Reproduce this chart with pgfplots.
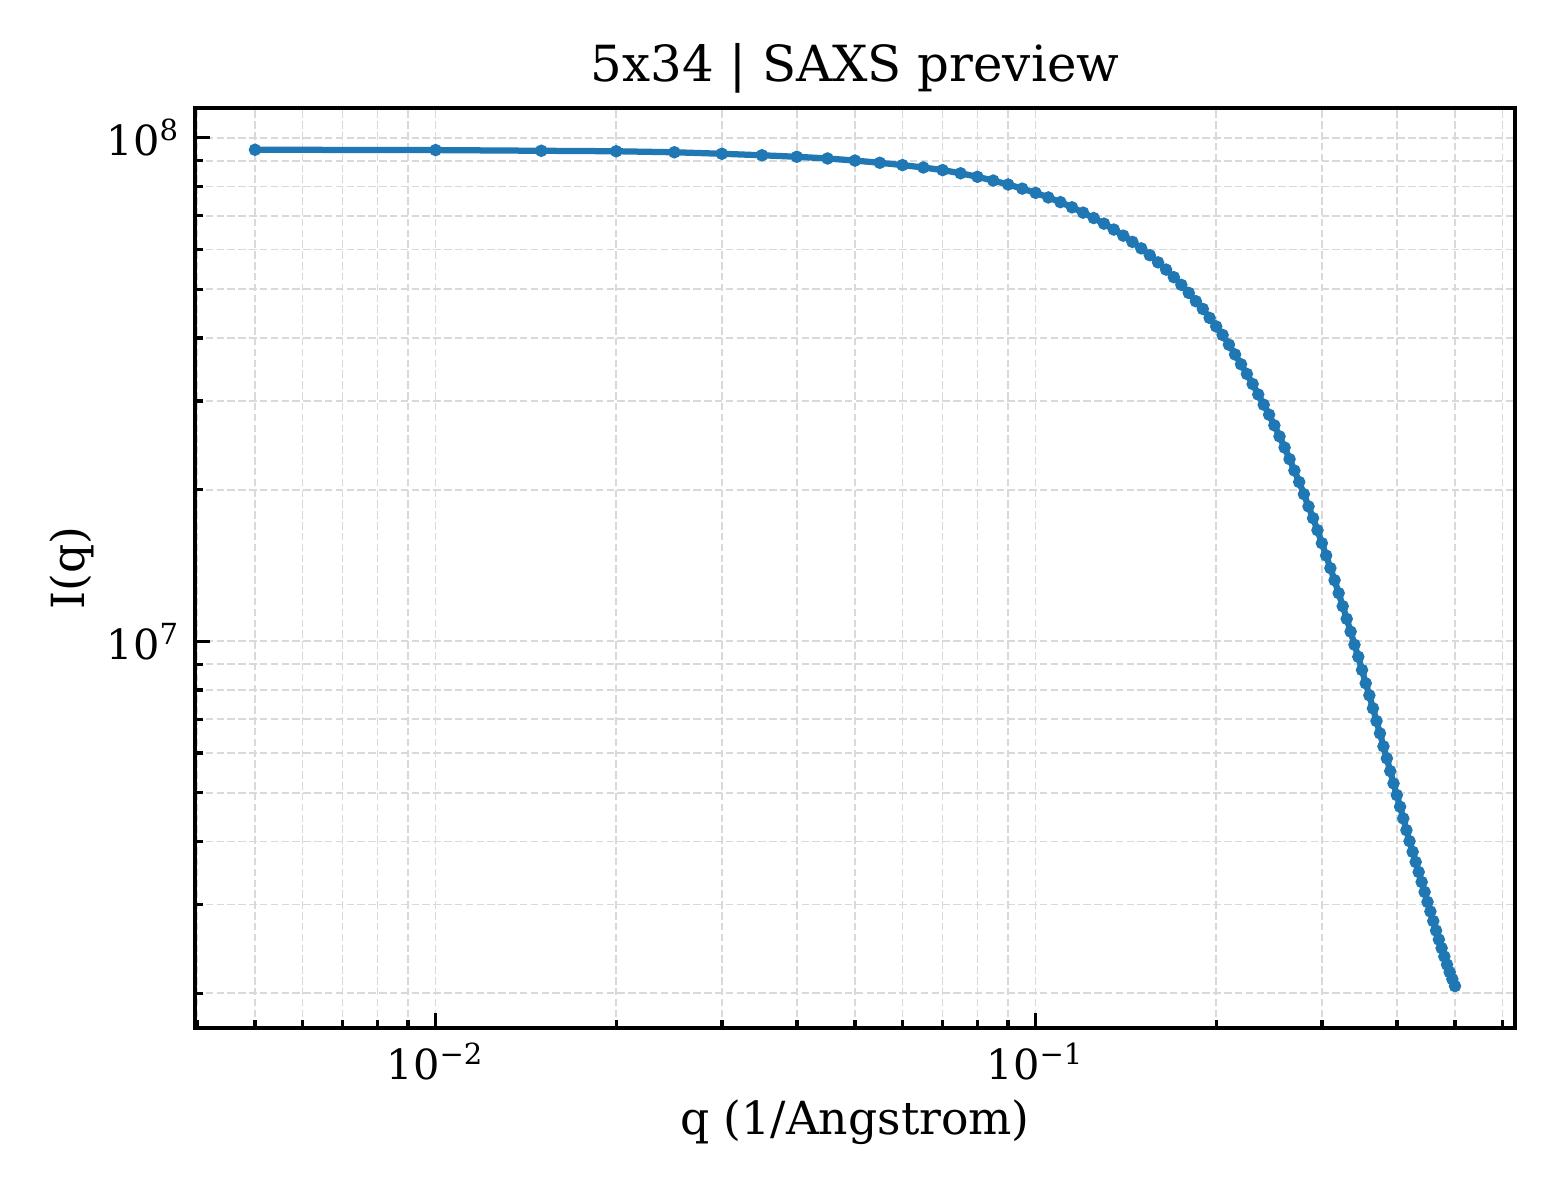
\documentclass[border=0pt]{standalone}
\usepackage{fontspec}
\setmainfont{DejaVu Serif}
\usepackage{pgfplots}
\usepackage{pgfplotstable}
\pgfplotsset{compat=1.18}
\definecolor{mplblue}{HTML}{1F77B4}
\definecolor{gridgray}{HTML}{D9D9D9}

% SAXS profile, q in 1/Angstrom
\pgfplotstableread{
q      I
0.005  9.466e7
0.010  9.452e7
0.015  9.422e7
0.020  9.401e7
0.025  9.358e7
0.030  9.294e7
0.035  9.230e7
0.040  9.167e7
0.045  9.096e7
0.050  9.009e7
0.055  8.919e7
0.060  8.825e7
0.065  8.729e7
0.070  8.625e7
0.075  8.500e7
0.080  8.365e7
0.085  8.221e7
0.090  8.075e7
0.095  7.925e7
0.100  7.774e7
0.105  7.612e7
0.110  7.450e7
0.115  7.275e7
0.120  7.101e7
0.125  6.927e7
0.130  6.752e7
0.135  6.572e7
0.140  6.391e7
0.145  6.212e7
0.150  6.030e7
0.155  5.845e7
0.160  5.656e7
0.165  5.472e7
0.170  5.285e7
0.175  5.102e7
0.180  4.919e7
0.185  4.735e7
0.190  4.571e7
0.195  4.387e7
0.200  4.219e7
0.205  4.058e7
0.210  3.882e7
0.215  3.712e7
0.220  3.549e7
0.225  3.395e7
0.230  3.243e7
0.235  3.091e7
0.240  2.950e7
0.245  2.818e7
0.250  2.684e7
0.255  2.552e7
0.260  2.425e7
0.265  2.300e7
0.270  2.183e7
0.275  2.071e7
0.280  1.960e7
0.285  1.853e7
0.290  1.756e7
0.295  1.662e7
0.300  1.566e7
0.305  1.480e7
0.310  1.397e7
0.315  1.322e7
0.320  1.246e7
0.325  1.174e7
0.330  1.108e7
0.335  1.045e7
0.340  9.841e6
0.345  9.315e6
0.350  8.769e6
0.355  8.251e6
0.360  7.810e6
0.365  7.359e6
0.370  6.943e6
0.375  6.563e6
0.380  6.184e6
0.385  5.853e6
0.390  5.523e6
0.395  5.220e6
0.400  4.948e6
0.405  4.692e6
0.410  4.447e6
0.415  4.215e6
0.420  4.008e6
0.425  3.818e6
0.430  3.644e6
0.435  3.481e6
0.440  3.325e6
0.445  3.177e6
0.450  3.035e6
0.455  2.906e6
0.460  2.782e6
0.465  2.663e6
0.470  2.556e6
0.475  2.458e6
0.480  2.365e6
0.485  2.279e6
0.490  2.202e6
0.495  2.133e6
0.500  2.066e6
}\saxs

\begin{document}
\begin{tikzpicture}
\begin{axis}[
    scale only axis,
    width=316.8bp, height=220.8bp,
    xmode=log, ymode=log,
    xmin=0.003972, xmax=0.6295,
    ymin=1.706e6, ymax=1.146e8,
    axis line style={line width=1bp},
    tick pos=left,
    tick align=inside,
    major tick length=3.6bp,
    minor tick length=2bp,
    every tick/.style={black, line width=0.8bp},
    xtick={0.01,0.1},
    xticklabels={10\textsuperscript{−2}, 10\textsuperscript{−1}},
    minor xtick={0.004,0.005,0.006,0.007,0.008,0.009,
                 0.02,0.03,0.04,0.05,0.06,0.07,0.08,0.09,
                 0.2,0.3,0.4,0.5,0.6},
    ytick={1e7,1e8},
    yticklabels={10\textsuperscript{7}, 10\textsuperscript{8}},
    minor ytick={2e6,3e6,4e6,5e6,6e6,7e6,8e6,9e6,
                 2e7,3e7,4e7,5e7,6e7,7e7,8e7,9e7},
    ticklabel style={font=\fontsize{10}{12}\selectfont},
    grid=both,
    major grid style={gridgray, line width=0.4bp, dash pattern=on 1.8bp off 0.8bp},
    minor grid style={gridgray, line width=0.4bp, dash pattern=on 1.8bp off 0.8bp},
    every axis title shift=0pt,
    title={5x34 | SAXS preview},
    title style={font=\fontsize{12}{14}\selectfont, at={(axis description cs:0.5,1.0435)}, anchor=center},
    xlabel={q (1/Angstrom)},
    xlabel style={font=\fontsize{11}{13}\selectfont, at={(axis description cs:0.5,-0.103)}, anchor=center},
    ylabel={I(q)},
    ylabel style={font=\fontsize{11}{13}\selectfont, at={(axis description cs:-0.0932,0.5)}, anchor=center, rotate=0},
]
\addplot[color=mplblue, line width=1.5bp, mark=*, mark size=1.35bp,
         mark options={solid, fill=mplblue, draw=mplblue, line width=0.3bp}] table[x=q, y=I] {\saxs};
\end{axis}
\pgfresetboundingbox
\path (-46.8bp,-41.28bp) rectangle (327.6bp,246.72bp);
\end{tikzpicture}
\end{document}
